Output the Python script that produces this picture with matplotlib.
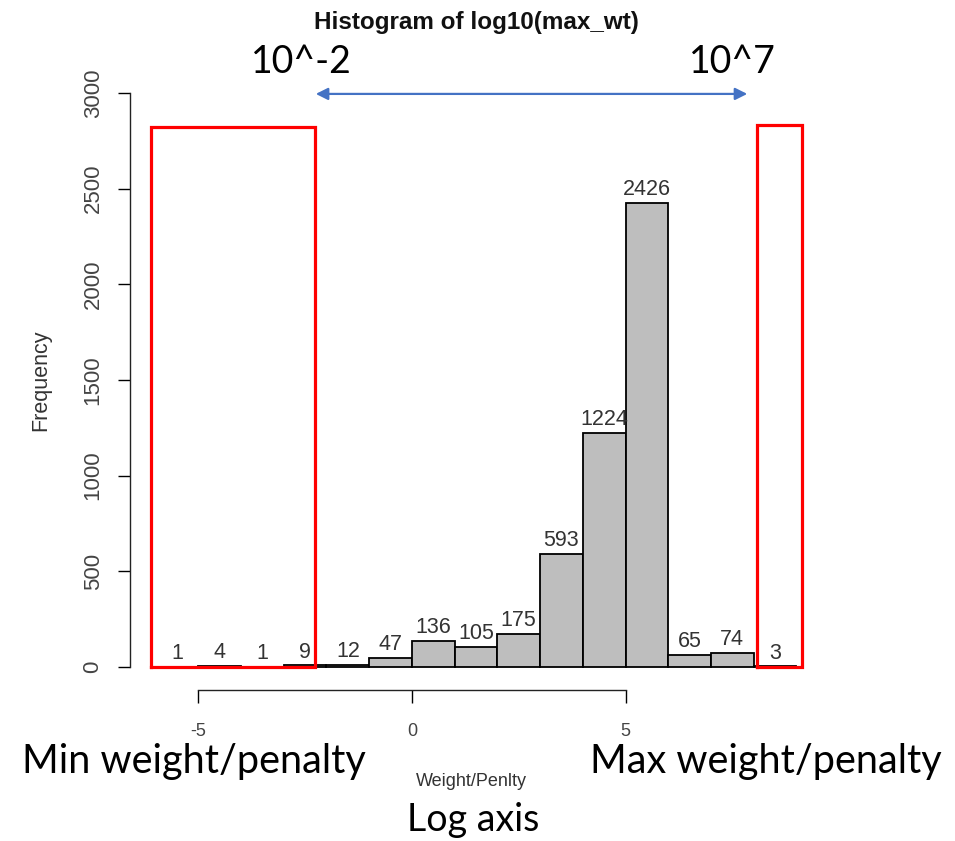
import matplotlib
matplotlib.use("Agg")
import matplotlib.pyplot as plt
import numpy as np

# histogram of log10(max_wt): integer-width bins
bin_edges = [-6, -5, -4, -3, -2, -1, 0, 1, 2, 3, 4, 5, 6, 7, 8, 9]
counts = [1, 4, 1, 9, 12, 47, 136, 105, 175, 593, 1224, 2426, 65, 74, 3]

x_ticks = [-5, 0, 5]
y_ticks = [0, 500, 1000, 1500, 2000, 2500, 3000]

# annotation boxes / arrow in data units
left_box = (-6.11, -2.27, 2823)    # x0, x1, top
right_box = (8.08, 9.13, 2833)
arrow_span = (-2.25, 7.85, 2995)

plt.rcParams['font.family'] = ['Liberation Sans', 'DejaVu Sans']

fig = plt.figure(figsize=(9.55, 8.41), dpi=100)
ax = fig.add_axes([130 / 955, 1 - 690 / 841, 692 / 955, 620 / 841])

edges = np.array(bin_edges, dtype=float)
ax.bar(edges[:-1], counts, width=np.diff(edges), align='edge',
       color='#bebebe', edgecolor='black', linewidth=1.3, zorder=2)

for x0, x1, c in zip(edges[:-1], edges[1:], counts):
    ax.annotate(str(c), xy=((x0 + x1) / 2, c), xytext=(0, 2),
                textcoords='offset points', ha='center', va='bottom',
                fontsize=15.5, color='#333333', zorder=4)

ax.set_xlim(-6.6, 9.6)
ax.set_ylim(-120, 3120)

for s in ['top', 'right']:
    ax.spines[s].set_visible(False)
ax.spines['bottom'].set_bounds(x_ticks[0], x_ticks[-1])
ax.spines['left'].set_bounds(y_ticks[0], y_ticks[-1])
for s in ['bottom', 'left']:
    ax.spines[s].set_linewidth(1.0)
    ax.spines[s].set_color('#222222')

ax.set_xticks(x_ticks)
ax.set_xticklabels([str(v) for v in x_ticks])
ax.set_yticks(y_ticks)
ax.set_yticklabels([str(v) for v in y_ticks], rotation=90, va='center')
ax.tick_params(axis='x', length=9, width=1.0, pad=15, labelsize=13,
               labelcolor='#444444')
ax.tick_params(axis='y', length=9, width=1.0, pad=10, labelsize=16,
               labelcolor='#444444')

# red highlight boxes
for x0, x1, top in [left_box, right_box]:
    ax.plot([x0, x0, x1, x1, x0], [0, top, top, 0, 0], color='red',
            linewidth=2.3, zorder=5, clip_on=False, solid_joinstyle='miter')

# blue double arrow across the range
ax.annotate('', xy=(arrow_span[1], arrow_span[2]),
            xytext=(arrow_span[0], arrow_span[2]),
            arrowprops=dict(arrowstyle='<|-|>', color='#4472c4', lw=1.6,
                            mutation_scale=18, shrinkA=0, shrinkB=0),
            annotation_clip=False)

# titles and labels
fig.text(476 / 955, 1 - 22 / 841, 'Histogram of log10(max_wt)', ha='center',
         va='center', fontsize=17.5, fontweight='bold', color='#111111')
fig.text(41 / 955, 1 - 380 / 841, 'Frequency', rotation=90, ha='center',
         va='center', fontsize=15.5, color='#333333')
fig.text(471 / 955, 1 - 781 / 841, 'Weight/Penlty', ha='center',
         va='center', fontsize=13, color='#333333')

big = dict(family=['Lato', 'DejaVu Sans'], color='black')
fig.text(301 / 955, 1 - 62 / 841, '10^-2', ha='center', va='center',
         fontsize=27, **big)
fig.text(732 / 955, 1 - 62 / 841, '10^7', ha='center', va='center',
         fontsize=27, **big)
fig.text(194 / 955, 1 - 762 / 841, 'Min weight/penalty', ha='center',
         va='center', fontsize=28.5, **big)
fig.text(766 / 955, 1 - 762 / 841, 'Max weight/penalty', ha='center',
         va='center', fontsize=28.5, **big)
fig.text(473 / 955, 1 - 820 / 841, 'Log axis', ha='center', va='center',
         fontsize=27, **big)

fig.savefig('out.png', dpi=100)
